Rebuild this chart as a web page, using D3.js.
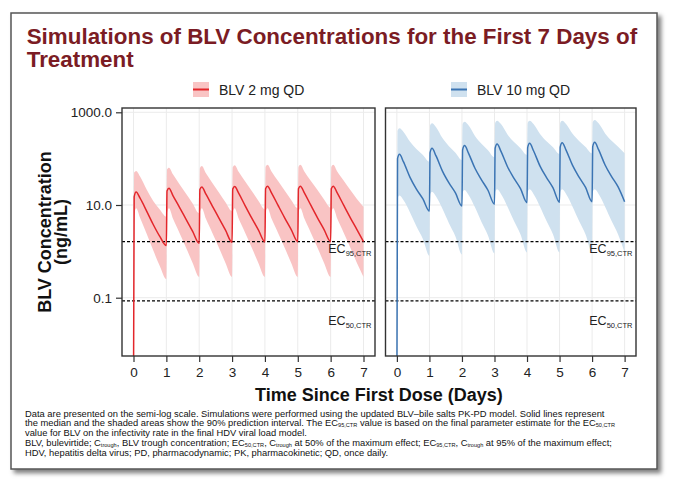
<!DOCTYPE html>
<html><head><meta charset="utf-8">
<script src="https://cdn.jsdelivr.net/npm/d3@7"></script>
<style>html,body{margin:0;padding:0;background:#fff;} svg{display:block;font-family:"Liberation Sans",Arial,sans-serif;}</style>
</head><body><svg id="c" width="688" height="495"></svg>
<script>
// ---------------- data ----------------
const times = [0,0.02,0.08,0.2,0.4,0.6,0.8, 1,1.02,1.08,1.2,1.4,1.6,1.8, 2,2.02,2.08,2.2,2.4,2.6,2.8,
  3,3.02,3.08,3.2,3.4,3.6,3.8, 4,4.02,4.08,4.2,4.4,4.6,4.8, 5,5.02,5.08,5.2,5.4,5.6,5.8,
  6,6.02,6.08,6.2,6.4,6.6,6.8, 7];

// BLV 2 mg QD
const med2 = [0.001,15,19,14,7.4,3.8,2.1, 1.33,20,23,16,8.9,4.9,2.7, 1.49,21.5,24.5,17.3,9.5,5.2,2.86,
  1.57,22,25,18,9.6,5.2,2.9, 1.6,22.5,25.5,18.3,9.8,5.3,2.95, 1.62,22.5,25.5,18.3,9.8,5.3,2.95,
  1.62,22.5,25.5,18.3,9.8,5.3,2.95, 1.62];
const hi2 = [0.001,50,54,41,21.5,12.2,8, 5.6,58,64,46,28,17.5,10.8, 6.6,62,69,49,30,18.6,11.5,
  7.4,65,72,52,32,20,12.4, 8.1,66,74,53,33,20.5,12.8, 8.5,66,74,53,33,21,13.2,
  8.8,66,74,53,33.5,21,13.5, 9.1];
const lo2 = [0.001,6,8.5,5.3,2.4,1.05,0.48, 0.25,7,8.5,5.1,2.5,1.2,0.56, 0.28,7,8.5,5.1,2.5,1.2,0.56,
  0.28,7,8.5,5.1,2.5,1.2,0.56, 0.28,7,8.5,5.1,2.5,1.2,0.56, 0.28,7,8.5,5.1,2.5,1.2,0.56,
  0.28,7,8.5,5.1,2.5,1.2,0.56, 0.28];

// BLV 10 mg QD
const med10 = [0.001,100,124,86,40,22,13.5, 7.4,135,167,116,54,30,18.2, 9.5,155,191,132,62,35,20.8,
  10.4,168,207,143,67,37.5,22.5, 11.2,173,214,148,69,39,23.3, 11.4,178,221,153,71.5,40,24,
  11.8,182,225,156,73,41,24.5, 11.8];
const hi10 = [0.001,400,452,382,233,162,120, 86,517,580,483,278,186,134, 93,559,627,525,310,209,152,
  107,587,659,556,332,228,168, 120,587,659,559,339,236,176, 126,588,660,561,345,241,179,
  130,608,682,577,351,244,181, 130];
const lo10 = [0.001,14,16,12.8,7,3.5,1.85, 0.8,17,19.4,15.4,8.3,4.05,2.1, 0.86,18.5,21,16.6,8.9,4.3,2.2,
  0.9,19,21.8,17.3,9.2,4.5,2.3, 0.94,19,21.8,17.3,9.2,4.5,2.3, 0.94,19,21.8,17.3,9.2,4.5,2.3,
  0.94,19,21.8,17.3,9.2,4.5,2.3, 0.94];

const seriesNames = ["BLV 2 mg QD", "BLV 10 mg QD"];
const dayTicks = [0,1,2,3,4,5,6,7];
const yTicks = [0.1, 10, 1000];
const yTickLabels = ["0.1", "10.0", "1000.0"];
const ec95 = 1.62, ec50 = 0.085;

const titleLines = ["Simulations of BLV Concentrations for the First 7 Days of", "Treatment"];
const footLines = [
  [["Data are presented on the semi-log scale. Simulations were performed using the updated BLV\u2013bile salts PK-PD model. Solid lines represent",0]],
  [["the median and the shaded areas show the 90% prediction interval. The EC",0],["95,CTR",1],[" value is based on the final parameter estimate for the EC",0],["50,CTR",1]],
  [["value for BLV on the infectivity rate in the final HDV viral load model.",0]],
  [["BLV, bulevirtide; C",0],["trough",1],[", BLV trough concentration; EC",0],["50,CTR",1],[", C",0],["trough",1],[" at 50% of the maximum effect; EC",0],["95,CTR",1],[", C",0],["trough",1],[" at 95% of the maximum effect;",0]],
  [["HDV, hepatitis delta virus; PD, pharmacodynamic; PK, pharmacokinetic; QD, once daily.",0]]
];

// ---------------- drawing ----------------
const svg = d3.select("#c");
const defs = svg.append("defs");
const f = defs.append("filter").attr("id","sh").attr("x","-5%").attr("y","-5%").attr("width","115%").attr("height","115%");
f.append("feDropShadow").attr("dx",3.5).attr("dy",3.5).attr("stdDeviation",2.2).attr("flood-color","#000").attr("flood-opacity",0.5);

svg.append("rect").attr("x",11).attr("y",13).attr("width",646).attr("height",456)
  .attr("fill","#fff").attr("stroke","#555").attr("stroke-width",1.5).attr("filter","url(#sh)");

// title
svg.selectAll("text.title").data(titleLines).join("text").attr("class","title")
  .attr("x",26.7).attr("y",(d,i)=>44+i*22.7)
  .attr("font-size",22.4).attr("font-weight","bold").attr("fill","#7b1c24").text(d=>d);

const panels = [
  {name: seriesNames[0], x0:122, x1:375, med:med2, lo:lo2, hi:hi2, line:"#e3262b", band:"#f9c4c4", legX:193},
  {name: seriesNames[1], x0:385.5, x1:636, med:med10, lo:lo10, hi:hi10, line:"#3b74b3", band:"#cfe1ef", legX:451}
];
const pTop = 108, pBottom = 356;
const y = d3.scaleLog().domain([0.1,1000]).range([297.7,112.3]);

panels.forEach((p,pi)=>{
  const x = d3.scaleLinear().domain([-0.35,7.35]).range([p.x0,p.x1]);
  const g = svg.append("g");
  const cid = "clip"+pi;
  defs.append("clipPath").attr("id",cid).append("rect")
    .attr("x",p.x0).attr("y",pTop).attr("width",p.x1-p.x0).attr("height",pBottom-pTop);
  // grid
  g.selectAll("line.vg").data(dayTicks).join("line").attr("class","vg")
    .attr("x1",d=>x(d)).attr("x2",d=>x(d)).attr("y1",pTop).attr("y2",pBottom)
    .attr("stroke","#ebebeb").attr("stroke-width",1);
  g.selectAll("line.hg").data(yTicks).join("line").attr("class","hg")
    .attr("x1",p.x0).attr("x2",p.x1).attr("y1",d=>y(d)).attr("y2",d=>y(d))
    .attr("stroke","#ebebeb").attr("stroke-width",1);
  const data = times.map((t,i)=>({t, m:p.med[i], lo:p.lo[i], hi:p.hi[i]}));
  const inner = g.append("g").attr("clip-path",`url(#${cid})`);
  inner.append("path").datum(data)
    .attr("d", d3.area().x(d=>x(d.t)).y0(d=>y(d.lo)).y1(d=>y(d.hi)).curve(d3.curveMonotoneX))
    .attr("fill",p.band);
  // reference lines
  [ec95, ec50].forEach(v=>{
    inner.append("line").attr("x1",p.x0).attr("x2",p.x1).attr("y1",y(v)).attr("y2",y(v))
      .attr("stroke","#000").attr("stroke-width",1.2).attr("stroke-dasharray","3,2");
  });
  inner.append("path").datum(data)
    .attr("d", d3.line().x(d=>x(d.t)).y(d=>y(d.m)).curve(d3.curveMonotoneX))
    .attr("fill","none").attr("stroke",p.line).attr("stroke-width",1.5);
  // EC labels
  [[ec95,"95,CTR",253.3],[ec50,"50,CTR",324.5]].forEach(([v,sub,by])=>{
    const t = g.append("text").attr("x",p.x1-3.5).attr("y",by).attr("text-anchor","end")
      .attr("font-size",12.5).attr("fill","#222");
    t.append("tspan").text("EC");
    t.append("tspan").attr("font-size",7.5).attr("dy",3).text(sub);
  });
  // border
  g.append("rect").attr("x",p.x0).attr("y",pTop).attr("width",p.x1-p.x0).attr("height",pBottom-pTop)
    .attr("fill","none").attr("stroke","#333").attr("stroke-width",1.4);
  // x axis
  const xa = g.append("g").attr("transform",`translate(0,${pBottom})`)
    .call(d3.axisBottom(x).tickValues(dayTicks).tickSize(6).tickPadding(5.5).tickFormat(d3.format("d")));
  xa.select(".domain").remove();
  xa.selectAll(".tick line").attr("stroke","#333").attr("stroke-width",1.2);
  xa.selectAll(".tick text").attr("font-size",13.5).attr("fill","#222")
    .attr("font-family","'Liberation Sans',Arial,sans-serif");
  if(pi===0){
    const ya = g.append("g").attr("transform",`translate(${p.x0},0)`)
      .call(d3.axisLeft(y).tickValues(yTicks).tickSize(6).tickPadding(4).tickFormat((d,i)=>yTickLabels[i]));
    ya.select(".domain").remove();
    ya.selectAll(".tick line").attr("stroke","#333").attr("stroke-width",1.2);
    ya.selectAll(".tick text").attr("font-size",13.5).attr("fill","#222")
      .attr("font-family","'Liberation Sans',Arial,sans-serif");
  }
  // legend
  const lg = svg.append("g");
  lg.append("rect").attr("x",p.legX).attr("y",82).attr("width",16).attr("height",15).attr("fill",p.band);
  lg.append("line").attr("x1",p.legX).attr("x2",p.legX+16).attr("y1",89.5).attr("y2",89.5)
    .attr("stroke",p.line).attr("stroke-width",2);
  lg.append("text").attr("x",p.legX+26).attr("y",94.5).attr("font-size",14).attr("fill","#222").text(p.name);
});

// axis titles
svg.append("text").attr("x",379).attr("y",400.5).attr("text-anchor","middle")
  .attr("font-size",18).attr("font-weight","bold").attr("fill","#111").text("Time Since First Dose (Days)");
svg.append("text").attr("transform","translate(50.5,232) rotate(-90)").attr("text-anchor","middle")
  .attr("font-size",18).attr("font-weight","bold").attr("fill","#111").text("BLV Concentration");
svg.append("text").attr("transform","translate(67,232) rotate(-90)").attr("text-anchor","middle")
  .attr("font-size",18).attr("font-weight","bold").attr("fill","#111").text("(ng/mL)");

// footnote
footLines.forEach((segs,i)=>{
  const t = svg.append("text").attr("x",25).attr("y",416.5+i*9.9).attr("font-size",9.35).attr("fill","#111");
  let off = 0;
  segs.forEach(([s,sub])=>{
    const target = sub ? 0.6 : 0;
    const ts = t.append("tspan").text(s).attr("dy", target - off);
    if(sub) ts.attr("font-size",5.6);
    off = target;
  });
});
</script>
</body></html>
